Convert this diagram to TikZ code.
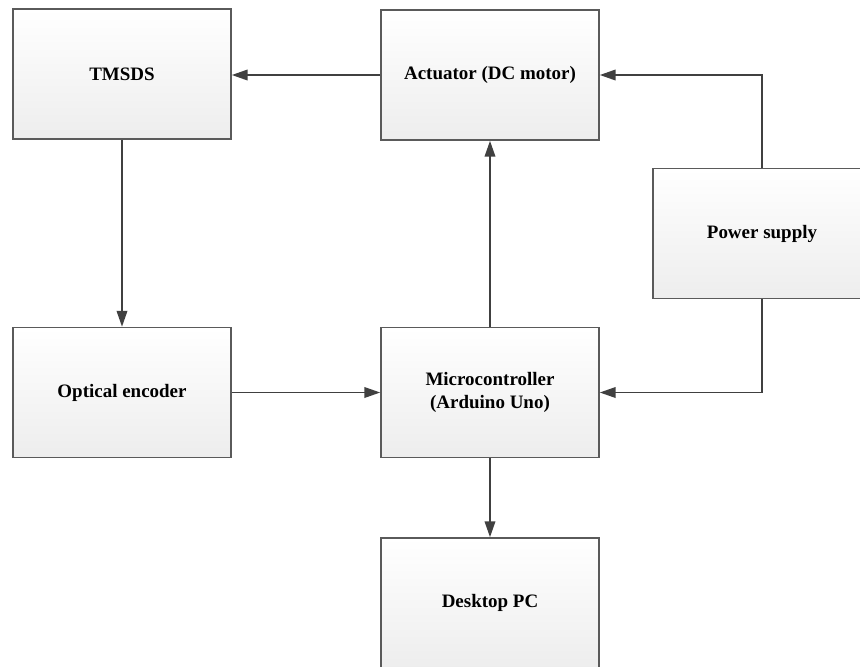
\documentclass[tikz,border=0pt]{standalone}
\usepackage{fontspec}
\setmainfont{Liberation Serif}
\usetikzlibrary{arrows.meta}
\definecolor{boxline}{HTML}{5A5A5A}
\definecolor{arrowline}{HTML}{404040}
\tikzset{
  block/.style={draw=boxline, line width=0.9pt, top color=white, bottom color=gray!14,
    minimum width=4.36cm, minimum height=2.6cm, inner sep=0pt,
    font=\fontsize{10.8}{13}\selectfont\bfseries, align=center},
  flow/.style={draw=arrowline, line width=1pt, -{Triangle[length=9pt,width=6pt]}}
}
\begin{document}
\begin{tikzpicture}[x=0.02cm, y=-0.02cm]
  \useasboundingbox (0,0) rectangle (860,667);

  % top row
  \node[block] (tmsds) at (122, 74) {TMSDS};
  \node[block] (actuator) at (490, 75) {Actuator (DC motor)};

  % power supply
  \node[block] (power) at (762, 233.5) {Power supply};

  % middle row
  \node[block] (encoder) at (122, 392.5) {Optical encoder};
  \node[block] (mcu) at (490, 392.5) {Microcontroller\\(Arduino Uno)};

  % bottom
  \node[block] (desktop) at (490, 603) {Desktop PC};

  % connections
  \draw[flow] (actuator.west) -- (tmsds.east |- actuator.west);
  \draw[flow] (tmsds) -- (encoder);
  \draw[flow] (encoder) -- (mcu);
  \draw[flow] (mcu) -- (actuator);
  \draw[flow] (power.north) |- (actuator.east);
  \draw[flow] (power.south) |- (mcu.east);
  \draw[flow] (mcu) -- (desktop);
\end{tikzpicture}
\end{document}
